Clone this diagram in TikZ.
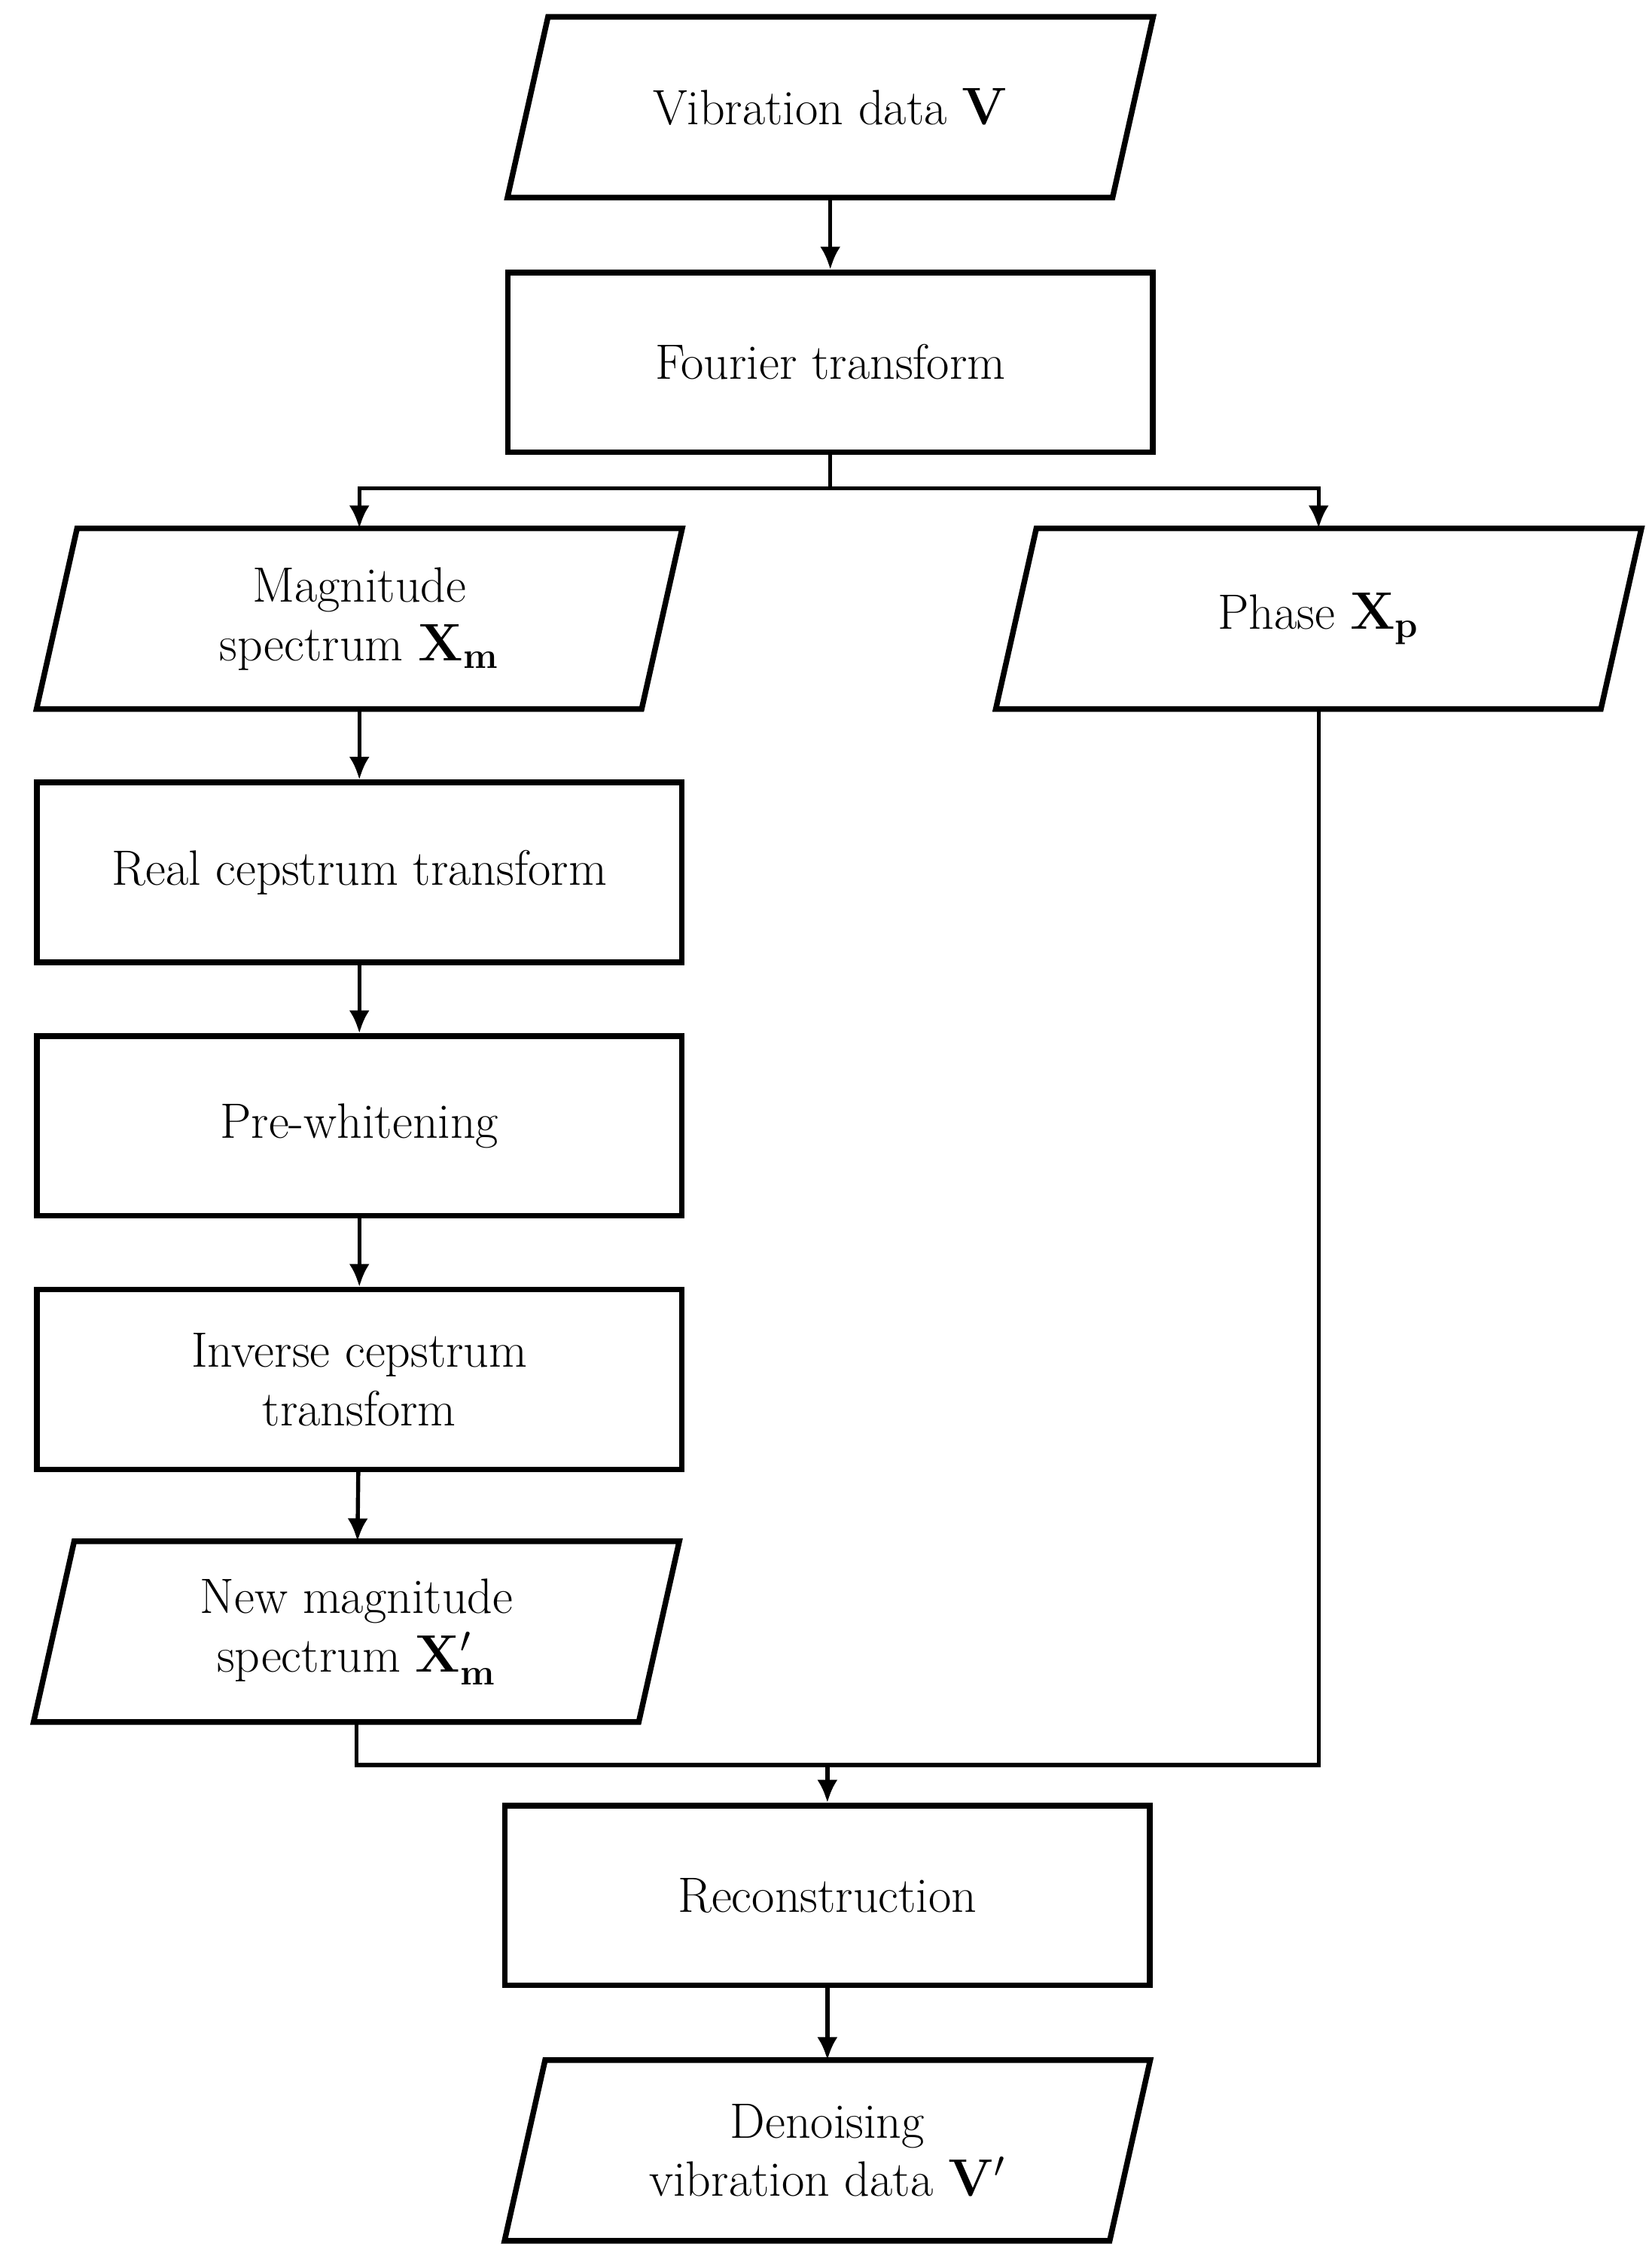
\documentclass[tikz,border=0pt]{standalone}
\usetikzlibrary{calc,arrows.meta}
\begin{document}
\begin{tikzpicture}[x=0.02cm,y=-0.02cm,
  box/.style={draw,line width=2.2pt,minimum width=8.9cm,minimum height=2.48cm,align=center,font=\fontsize{19.5}{23}\selectfont},
  pbox/.style={draw=none,minimum width=8.9cm,minimum height=2.48cm,align=center,font=\fontsize{19.5}{23}\selectfont},
  ln/.style={line width=1.6pt},
  arr/.style={ln,-{Latex[length=9pt,width=8pt]}}]
\useasboundingbox (0,0) rectangle (1140,1561);
\newcommand\mypara[1]{\draw[line width=2.2pt] ($(#1.north west)+(0.56cm,0)$) -- (#1.north east) -- ($(#1.south east)-(0.56cm,0)$) -- (#1.south west) -- cycle;}
\node[pbox] (v) at (573,74) {Vibration data $\mathbf{V}$};
\node[box] (f) at (573,250) {Fourier transform};
\node[pbox] (m) at (248,427) {Magnitude\\spectrum $\mathbf{X}_{\mathbf{m}}$};
\node[pbox] (p) at (910,427) {Phase $\mathbf{X}_{\mathbf{p}}$};
\node[box] (r) at (248,602) {Real cepstrum transform};
\node[box] (w) at (248,777) {Pre-whitening};
\node[box] (i) at (248,952) {Inverse cepstrum\\transform};
\node[pbox] (n) at (246,1126) {New magnitude\\spectrum $\mathbf{X'_{m}}$};
\node[box] (c) at (571,1308) {Reconstruction};
\node[pbox] (d) at (571,1484) {Denoising\\vibration data $\mathbf{V}'$};
\mypara{v}\mypara{m}\mypara{p}\mypara{n}\mypara{d}
\coordinate (s) at (573,337);
\coordinate (j) at (571,1218);
\draw[arr] (v) -- (f);
\draw[ln] (f.south) -- (s);
\draw[arr] (s) -| (m.north);
\draw[arr] (s) -| (p.north);
\draw[arr] (m) -- (r);
\draw[arr] (r) -- (w);
\draw[arr] (w) -- (i);
\draw[arr] (i) -- (n);
\draw[ln] (n.south) |- (j);
\draw[ln] (p.south) |- (j);
\draw[arr] (j) -- (c);
\draw[arr] (c) -- (d);
\end{tikzpicture}
\end{document}
